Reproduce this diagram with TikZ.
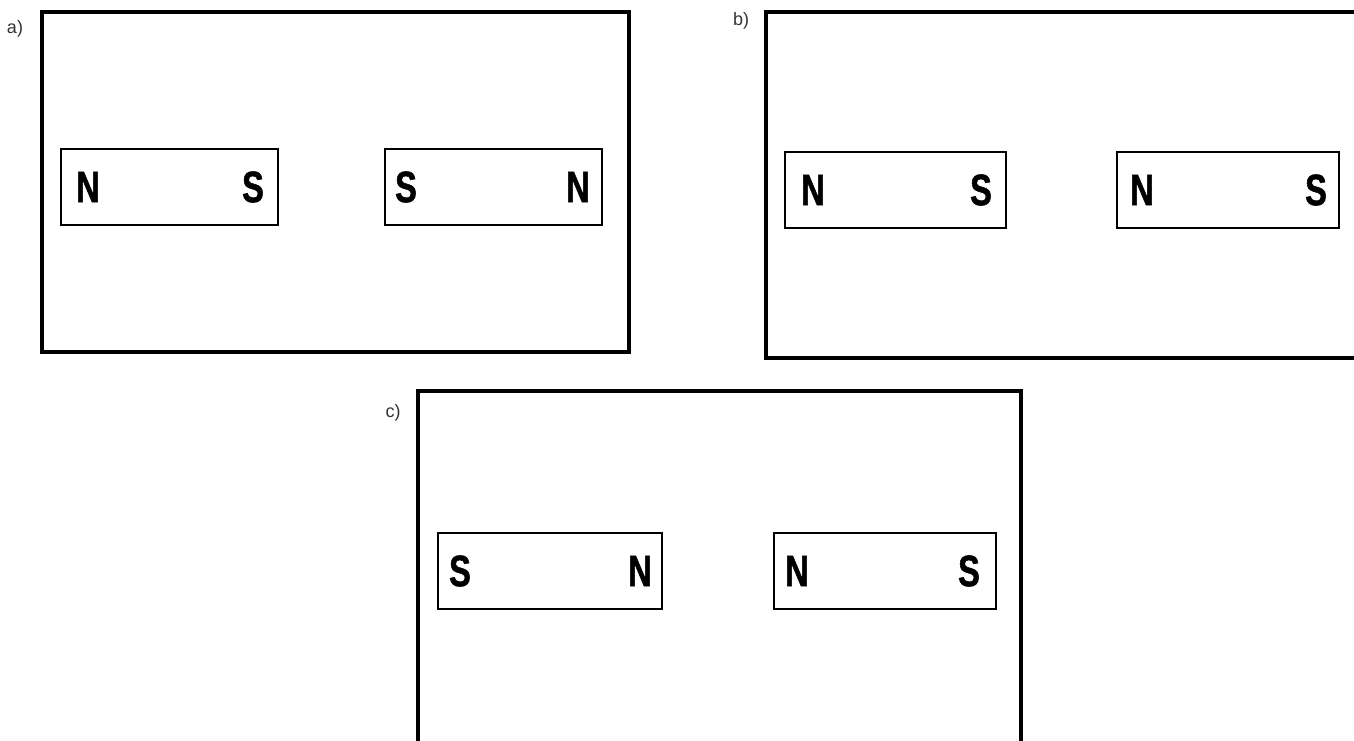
\documentclass[tikz,border=0pt]{standalone}
\usepackage{fontspec}
\setmainfont{Liberation Sans}
\newfontfamily\polefont[FakeStretch=0.74, FakeBold=1.2]{Liberation Sans}

\tikzset{
    frame/.style={draw, line width=3pt},
    magnet/.style={draw, line width=1.5pt, minimum width=164pt, minimum height=57pt, inner sep=0pt},
    pole/.style={font=\polefont\bfseries\fontsize{33pt}{33pt}\selectfont, inner sep=0pt},
    tag/.style={font=\fontsize{13.5pt}{13.5pt}\selectfont, text=black!80, inner sep=0pt}
}

\begin{document}
\begin{tikzpicture}[x=0.75pt, y=-0.75pt]
    \useasboundingbox (0, 0) rectangle (1354, 740);
    \clip (0, 0) rectangle (1354, 740);
    % frames
    \draw[frame] (42, 12) rectangle (629, 352);
    \draw[frame] (766, 12) rectangle (1380, 358);
    \draw[frame] (418, 391) rectangle (1021, 760);
    \node[tag] (ta) at (15, 29) {a)};
    \node[tag] (tb) at (741, 21) {b)};
    \node[tag] (tc) at (393, 413) {c)};
    % a)
    \node[magnet, minimum width=163pt] (A1) at (169.5, 186.5) {};
    \node[magnet, minimum width=163pt] (A2) at (493.5, 186.5) {};
    \node[pole] (A1n) at (88, 187) {N};
    \node[pole] (A1s) at (253, 187) {S};
    \node[pole] (A2s) at (406, 187) {S};
    \node[pole] (A2n) at (578, 187) {N};
    % b)
    \node[magnet, minimum width=166pt] (B1) at (895.5, 189.5) {};
    \node[magnet, minimum width=166pt] (B2) at (1228, 189.5) {};
    \node[pole] (B1n) at (813, 190) {N};
    \node[pole] (B1s) at (981, 190) {S};
    \node[pole] (B2n) at (1142, 190) {N};
    \node[pole] (B2s) at (1316, 190) {S};
    % c)
    \node[magnet, minimum width=168pt] (C1) at (550, 570.5) {};
    \node[magnet, minimum width=167pt] (C2) at (885, 570.5) {};
    \node[pole] (C1s) at (460, 571) {S};
    \node[pole] (C1n) at (640, 571) {N};
    \node[pole] (C2n) at (797, 571) {N};
    \node[pole] (C2s) at (969, 571) {S};
\end{tikzpicture}
\end{document}
